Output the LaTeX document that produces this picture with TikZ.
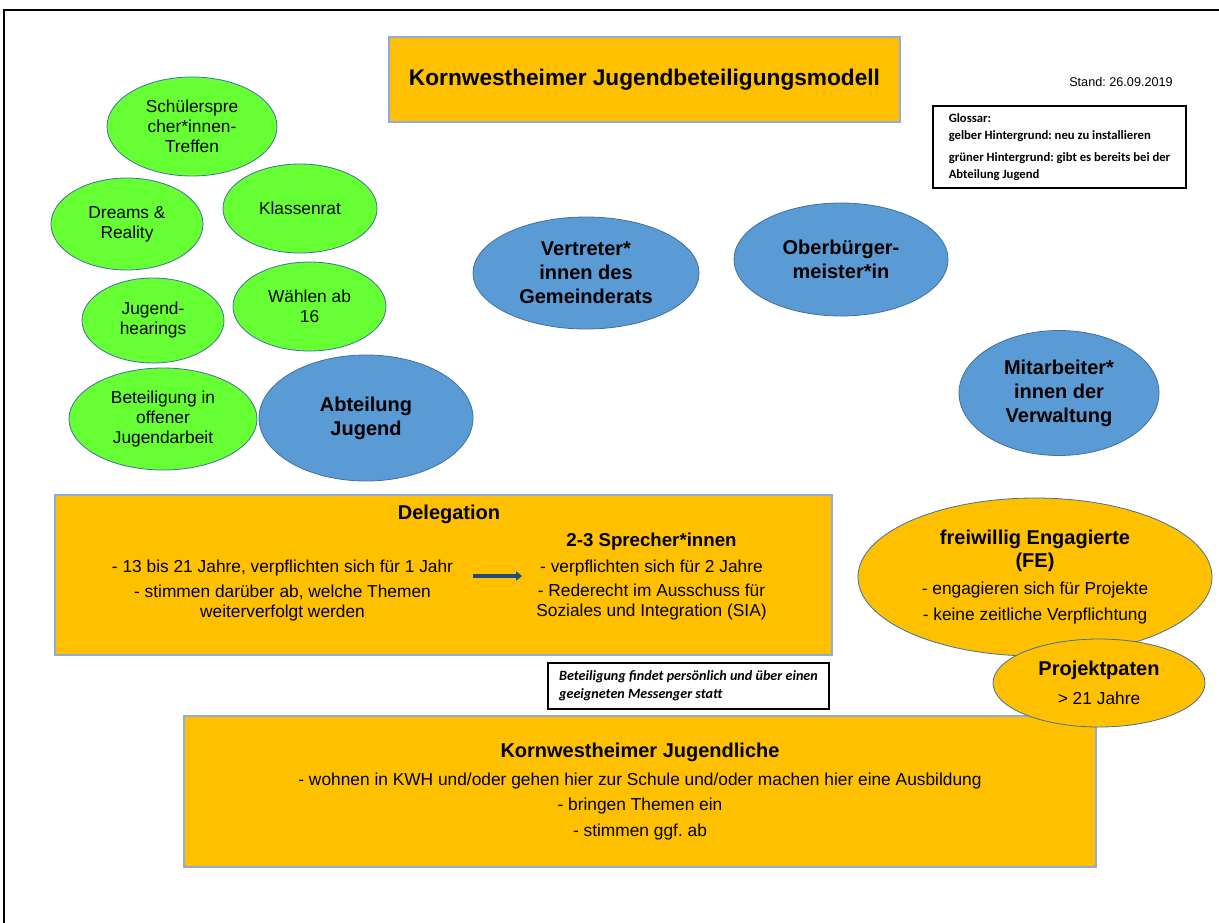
\documentclass[tikz,border=0pt]{standalone}
\usepackage{fontspec}
\setmainfont{Liberation Sans}
\newfontfamily\glossfont{Carlito}
\frenchspacing
\usetikzlibrary{shapes.geometric,arrows.meta}

\definecolor{kwgreen}{HTML}{66FF33}
\definecolor{kwblue}{HTML}{5B9BD5}
\definecolor{kworange}{HTML}{FFC000}
\definecolor{kwedge}{HTML}{41719C}
\definecolor{kwline}{HTML}{8FAADC}
\definecolor{kwarrow}{HTML}{1F4E79}

\begin{document}
\begin{tikzpicture}[x=0.75pt, y=-0.75pt,
    wh/.style 2 args={minimum width=#1*0.75pt, minimum height=#2*0.75pt},
    bubble/.style={ellipse, draw=kwedge, line width=0.6pt, inner sep=0pt, align=center},
    greenbubble/.style={bubble, fill=kwgreen, font=\fontsize{13}{15}\selectfont},
    bluebubble/.style={bubble, fill=kwblue, font=\bfseries\fontsize{15}{18}\selectfont},
    orangebubble/.style={bubble, fill=kworange, font=\fontsize{13}{19.5}\selectfont},
    orangebox/.style={rectangle, draw=kwline, fill=kworange, line width=0.8pt, inner sep=0pt, align=center},
    notebox/.style={rectangle, draw=black, line width=1pt, inner sep=0pt, align=left},
    plain/.style={inner sep=0pt, align=center, font=\fontsize{13}{15}\selectfont}
  ]
    \useasboundingbox (0,0) rectangle (1219,923);

    % Frame
    \draw[line width=1.5pt] (4,923) -- (4,10) -- (1219,10);

    % Title and date
    \node[orangebox, wh={511}{85}, font=\bfseries\fontsize{17}{20}\selectfont] (title) at (644.5,79.5) {Kornwestheimer Jugendbeteiligungsmodell};
    \node[plain, font=\fontsize{9.5}{11}\selectfont] (stand) at (1121,82) {Stand: 26.09.2019};

    % Glossar
    \node[notebox, wh={253}{82}, font=\glossfont\bfseries\fontsize{9.5}{13}\selectfont] (gloss) at (1059.5,147)
        {Glossar:\\gelber Hintergrund: neu zu installieren\\[3pt]grüner Hintergrund: gibt es bereits bei der\\Abteilung Jugend};

    % Existing offers
    \node[greenbubble, wh={170}{99}] (treffen) at (192,126.5) {Schülerspre\\cher*innen-\\Treffen};
    \node[greenbubble, wh={152}{92}] (dreams) at (127,224) {Dreams \&\\Reality};
    \node[greenbubble, wh={154}{89}] (klassenrat) at (300,208.5) {Klassenrat};
    \node[greenbubble, wh={142}{85}] (hearings) at (153,320.5) {Jugend-\\hearings};
    \node[greenbubble, wh={153}{89}] (waehlen) at (309.5,306.5) {Wählen ab\\16};
    \node[greenbubble, wh={188}{102}] (offen) at (163,419) {Beteiligung in\\offener\\Jugendarbeit};

    % Administration and council
    \node[bluebubble, wh={214}{126}] (abteilung) at (366,418) {Abteilung\\Jugend};
    \node[bluebubble, wh={226}{112}] (gemeinderat) at (586,273) {Vertreter*\\innen des\\Gemeinderats};
    \node[bluebubble, wh={214}{113}] (ob) at (841,259.5) {Oberbürger-\\meister*in};
    \node[bluebubble, wh={200}{125}] (verwaltung) at (1059,393) {Mitarbeiter*\\innen der\\Verwaltung};

    % Delegation
    \node[orangebox, wh={777}{160}] (deleg) at (443.5,575) {};
    \node[plain, font=\bfseries\fontsize{15}{18}\selectfont] (delhead) at (449,514) {Delegation};
    \node[plain] (delleft) at (282.5,590.5)
        {- 13 bis 21 Jahre, verpflichten sich für 1 Jahr\\[3.75pt]- stimmen darüber ab, welche Themen\\weiterverfolgt werden};
    \node[plain] (delright) at (651.5,576.5)
        {\textbf{\fontsize{14}{15}\selectfont 2-3 Sprecher*innen}\\[4.5pt]- verpflichten sich für 2 Jahre\\[3pt]- Rederecht im Ausschuss für\\Soziales und Integration (SIA)};
    \coordinate (arrS) at (473,576);
    \coordinate (arrE) at (522,576);
    \draw[kwarrow, line width=2.6pt, -{Triangle[length=4.5pt,width=7pt]}] (arrS) -- (arrE);

    % Note on messenger
    \node[notebox, wh={281}{46}, font=\glossfont\bfseries\itshape\fontsize{10.6}{13.5}\selectfont] (messenger) at (688.5,686)
        {Beteiligung findet persönlich und über einen\\geeigneten Messenger statt};

    % Young people
    \node[orangebox, wh={912}{151}, font=\fontsize{13}{19}\selectfont] (jugendliche) at (640,791.5)
        {\textbf{\fontsize{15}{17}\selectfont Kornwestheimer Jugendliche}\\[2pt]- wohnen in KWH und/oder gehen hier zur Schule und/oder machen hier eine Ausbildung\\- bringen Themen ein\\- stimmen ggf. ab};

    % Volunteers
    \node[orangebubble, wh={354}{158}] (fe) at (1035,577)
        {\textbf{\fontsize{15}{17}\selectfont freiwillig Engagierte}\\[-2.25pt]\textbf{\fontsize{15}{17}\selectfont (FE)}\\[0.75pt]- engagieren sich für Projekte\\- keine zeitliche Verpflichtung};
    \node[orangebubble, wh={212}{88}] (paten) at (1099,683)
        {\textbf{\fontsize{15}{17}\selectfont Projektpaten}\\[2.5pt]> 21 Jahre};
\end{tikzpicture}
\end{document}
